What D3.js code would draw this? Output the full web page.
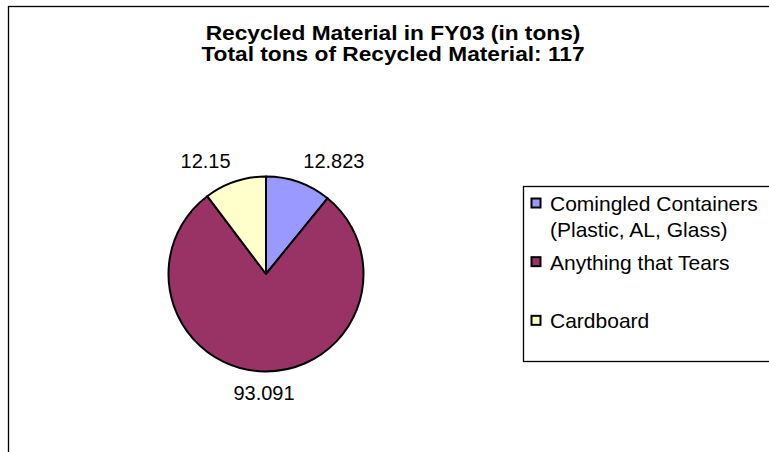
<!DOCTYPE html>
<html>
<head>
<meta charset="utf-8">
<script src="https://cdn.jsdelivr.net/npm/d3@7"></script>
<style>
  body { margin: 0; background: #fff; }
  text { font-family: Arial, "Liberation Sans", sans-serif; fill: #000; }
</style>
</head>
<body>
<div id="chart"></div>
<script>
// data
const categories = ["Comingled Containers (Plastic, AL, Glass)", "Anything that Tears", "Cardboard"];
const legendLines = [["Comingled Containers", "(Plastic, AL, Glass)"], ["Anything that Tears"], ["Cardboard"]];
const values = [12.823, 93.091, 12.15];
const valueLabels = ["12.823", "93.091", "12.15"];
const colors = ["#9999ff", "#993366", "#ffffcc"];
const titleLines = ["Recycled Material in FY03 (in tons)", "Total tons of Recycled Material: 117"];

const W = 769, H = 452;
const svg = d3.select("#chart").append("svg")
  .attr("width", W).attr("height", H);

// chart frame (runs off right and bottom edge)
svg.append("rect")
  .attr("x", 8.5).attr("y", 6.5)
  .attr("width", 800).attr("height", 500)
  .attr("fill", "#fff").attr("stroke", "#000").attr("stroke-width", 1.3);

// title (the original is drawn a bit wide, so stretch it horizontally)
svg.append("g")
  .attr("transform", "translate(393,0) scale(1.165,1)")
  .selectAll("text")
  .data(titleLines)
  .join("text")
  .attr("x", 0)
  .attr("y", (d, i) => 40 + i * 21.5)
  .attr("text-anchor", "middle")
  .style("font-weight", "bold")
  .style("font-size", "19.5px")
  .text(d => d);

// pie
const cx = 266, cy = 274, r = 97.5;
const color = d3.scaleOrdinal().domain(categories).range(colors);
const pie = d3.pie().sort(null).value(d => d.value);
const arcs = pie(categories.map((c, i) => ({ name: c, value: values[i], label: valueLabels[i] })));
const arc = d3.arc().innerRadius(0).outerRadius(r);

const g = svg.append("g").attr("transform", `translate(${cx},${cy})`);
g.selectAll("path")
  .data(arcs)
  .join("path")
  .attr("d", arc)
  .attr("fill", d => color(d.data.name))
  .attr("stroke", "#000")
  .attr("stroke-width", 2)
  .attr("stroke-linejoin", "round");

// value labels just outside each slice, box touching mid-angle point
const gap = 14, fs = 20;
const labels = g.selectAll("text.val")
  .data(arcs)
  .join("text")
  .attr("class", "val")
  .style("font-size", fs + "px")
  .attr("text-anchor", "middle")
  .text(d => d.data.label);
labels.each(function (d) {
  const a = (d.startAngle + d.endAngle) / 2;
  const w = this.getComputedTextLength();
  const px = Math.sin(a) * (r + gap), py = -Math.cos(a) * (r + gap);
  const sx = Math.abs(Math.sin(a)) > 0.1 ? Math.sign(Math.sin(a)) * w / 2 : 0;
  const cyl = py - Math.cos(a) * fs * 0.4;
  d3.select(this).attr("x", px + sx).attr("y", cyl + fs * 0.35);
});

// legend
const legend = svg.append("g");
legend.append("rect")
  .attr("x", 523.5).attr("y", 186.5)
  .attr("width", 300).attr("height", 175)
  .attr("fill", "#fff").attr("stroke", "#000").attr("stroke-width", 1.3);
const row = d3.scaleBand().domain(categories).range([186, 362]);
const items = legend.selectAll("g.item")
  .data(categories)
  .join("g")
  .attr("class", "item")
  .attr("transform", d => `translate(0,${row(d)})`);
items.append("rect")
  .attr("x", 531.5).attr("y", 12.5)
  .attr("width", 9).attr("height", 9)
  .attr("fill", d => color(d))
  .attr("stroke", "#000").attr("stroke-width", 2);
items.append("text")
  .style("font-size", "21px")
  .selectAll("tspan")
  .data((d, i) => legendLines[i])
  .join("tspan")
  .attr("x", 550)
  .attr("y", (d, i) => 25 + i * 26)
  .text(d => d);
</script>
</body>
</html>
